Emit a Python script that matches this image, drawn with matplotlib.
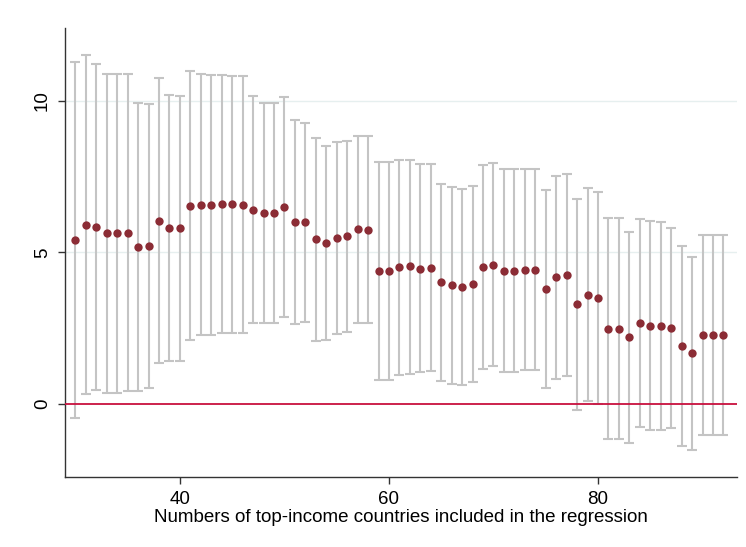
import matplotlib
matplotlib.use('Agg')
import matplotlib.pyplot as plt
import numpy as np

plt.rcParams['font.family'] = ['Liberation Sans', 'DejaVu Sans']

n_countries = list(range(30, 93))

coef = [5.41, 5.92, 5.83, 5.63, 5.63, 5.65, 5.18, 5.20, 6.05, 5.80,
        5.80, 6.54, 6.57, 6.56, 6.59, 6.59, 6.57, 6.40, 6.30, 6.30,
        6.49, 6.01, 5.99, 5.43, 5.32, 5.47, 5.54, 5.76, 5.75, 4.39,
        4.39, 4.52, 4.55, 4.47, 4.49, 4.01, 3.92, 3.87, 3.96, 4.53,
        4.60, 4.39, 4.40, 4.43, 4.43, 3.78, 4.18, 4.25, 3.29, 3.61,
        3.50, 2.48, 2.48, 2.21, 2.66, 2.59, 2.57, 2.51, 1.92, 1.67,
        2.27, 2.27, 2.27]

ci_upper = [11.27, 11.50, 11.20, 10.89, 10.89, 10.88, 9.92, 9.89, 10.76, 10.19,
            10.17, 10.97, 10.87, 10.85, 10.85, 10.81, 10.80, 10.14, 9.94, 9.92,
            10.13, 9.37, 9.28, 8.78, 8.51, 8.64, 8.68, 8.84, 8.83, 7.97,
            7.97, 8.05, 8.06, 7.90, 7.90, 7.27, 7.17, 7.10, 7.18, 7.88,
            7.96, 7.75, 7.75, 7.75, 7.75, 7.06, 7.51, 7.59, 6.77, 7.14,
            6.99, 6.12, 6.12, 5.69, 6.11, 6.04, 6.00, 5.82, 5.21, 4.85,
            5.56, 5.56, 5.56]

ci_lower = [-0.46, 0.34, 0.48, 0.36, 0.36, 0.44, 0.45, 0.52, 1.34, 1.42,
            1.42, 2.12, 2.28, 2.28, 2.34, 2.36, 2.34, 2.66, 2.66, 2.66,
            2.86, 2.64, 2.72, 2.09, 2.13, 2.30, 2.39, 2.67, 2.67, 0.80,
            0.80, 0.97, 1.01, 1.05, 1.09, 0.77, 0.67, 0.64, 0.73, 1.17,
            1.25, 1.05, 1.06, 1.11, 1.11, 0.52, 0.84, 0.92, -0.18, 0.09,
            0.01, -1.14, -1.14, -1.27, -0.76, -0.85, -0.85, -0.79, -1.37, -1.50,
            -1.02, -1.02, -1.02]

x = np.array(n_countries)
b = np.array(coef)
err = [b - np.array(ci_lower), np.array(ci_upper) - b]

fig = plt.figure(figsize=(7.46, 5.47), dpi=100)
ax = fig.add_axes([0.087, 0.128, 0.901, 0.821])

# faint horizontal grid like stata's s2color scheme
for yv in (5, 10):
    ax.axhline(yv, color='#e6efef', lw=1, zorder=0)

ax.errorbar(x, b, yerr=err, fmt='none', ecolor='#c4c4c4', elinewidth=1.5,
            capsize=3.5, capthick=1.5, zorder=2)
ax.axhline(0, color='#c8103e', lw=1.3, zorder=3)
ax.scatter(x, b, s=36, color='#8b2c35', zorder=4, linewidths=0)

ax.set_xlim(29.0, 93.3)
ax.set_ylim(-2.4, 12.4)
ax.set_xticks([40, 60, 80])
ax.set_yticks([0, 5, 10])
ax.tick_params(axis='both', length=5, width=1, color='#333333', labelsize=13.5)
ax.tick_params(axis='x', pad=5)
ax.tick_params(axis='y', pad=5)
for lab in ax.get_yticklabels():
    lab.set_rotation(90)
    lab.set_va('center')
ax.spines['top'].set_visible(False)
ax.spines['right'].set_visible(False)
for s in ('left', 'bottom'):
    ax.spines[s].set_color('#333333')
    ax.spines[s].set_linewidth(1)

ax.set_xlabel('Numbers of top-income countries included in the regression',
              fontsize=13.5, labelpad=1)

fig.savefig('out.png', dpi=100)
